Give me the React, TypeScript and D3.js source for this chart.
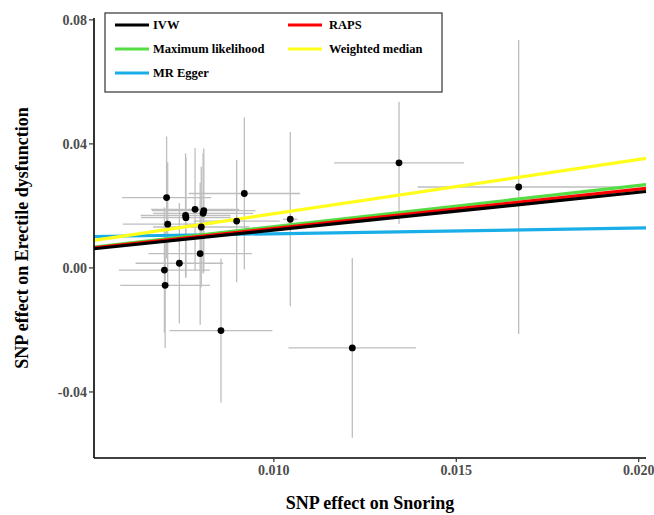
import React from "react";
import * as d3 from "d3";

// SNP effects (exposure: snoring, outcome: erectile dysfunction) and 95% CI half widths
const snpX = [0.00706, 0.00919, 0.00758, 0.00759, 0.00784, 0.00808, 0.00806, 0.00709, 0.00801, 0.00898,
  0.01045, 0.00798, 0.00741, 0.00700, 0.00702, 0.00855, 0.01343, 0.01215, 0.01671];
const snpY = [0.0227, 0.0240, 0.0169, 0.0162, 0.0189, 0.0185, 0.0176, 0.0141, 0.0132, 0.0151,
  0.0157, 0.0046, 0.0015, -0.0007, -0.0056, -0.0202, 0.0339, -0.0258, 0.0261];
const snpXErr = [0.00122, 0.00153, 0.00123, 0.00123, 0.00121, 0.00142, 0.00137, 0.00123, 0.00132, 0.00118,
  0.0002, 0.00142, 0.0012, 0.00125, 0.00123, 0.00141, 0.00178, 0.00175, 0.00277];
const snpYErr = [0.0197, 0.0245, 0.02, 0.0194, 0.0197, 0.02, 0.0194, 0.02, 0.0194, 0.0197,
  0.0281, 0.0229, 0.0194, 0.0202, 0.0202, 0.0232, 0.0197, 0.029, 0.0474];

// MR estimates drawn as lines (draw order)
const methods = ["MR Egger", "Weighted median", "Maximum likelihood", "RAPS", "IVW"];
const methodSlopes = [0.183, 1.75, 1.33, 1.27, 1.22];
const methodIntercepts = [0.0092, 0, 0, 0, 0];
const methodColors = ["#1AAEE8", "#FFFF1A", "#55DD44", "#FF0000", "#000000"];

// legend order
const legendLabels = ["IVW", "RAPS", "Maximum likelihood", "Weighted median", "MR Egger"];

const xTicks = [0.01, 0.015, 0.02];
const yTicks = [-0.04, 0, 0.04, 0.08];

const W = 654;
const H = 515;
const font = "'Liberation Serif', 'Times New Roman', serif";

const App = () => {
  const x = d3.scaleLinear().domain([0.00507, 0.0202]).range([94, 646]);
  const y = d3.scaleLinear().domain([-0.0613, 0.0806]).range([458, 18]);

  const [x0, x1] = x.domain();
  const [yb, yt] = y.range();
  const line = d3.line<[number, number]>().x(d => x(d[0])).y(d => y(d[1]));

  return (
    <svg width={W} height={H} style={{ position: "absolute", left: 0, top: 0, background: "#fff" }}>
      <g>
        {snpX.map((d, i) => (
          <g key={i} stroke="#BEBEBE" strokeWidth={1.3}>
            <line x1={x(d - snpXErr[i])} x2={x(d + snpXErr[i])} y1={y(snpY[i])} y2={y(snpY[i])} />
            <line x1={x(d)} x2={x(d)} y1={y(snpY[i] - snpYErr[i])} y2={y(snpY[i] + snpYErr[i])} />
          </g>
        ))}
      </g>
      <g>
        {methods.map((m, i) => (
          <path
            key={m}
            d={line([
              [x0, methodIntercepts[i] + methodSlopes[i] * x0],
              [x1, methodIntercepts[i] + methodSlopes[i] * x1],
            ]) || ""}
            stroke={methodColors[i]}
            strokeWidth={3.2}
            fill="none"
          />
        ))}
      </g>
      <g>
        {snpX.map((d, i) => (
          <circle key={i} cx={x(d)} cy={y(snpY[i])} r={3.4} fill="#000" />
        ))}
      </g>

      {/* axes */}
      <g fontFamily={font} fontWeight="bold" fontSize={14} fill="#4D4D4D">
        <line x1={x(x0)} x2={x(x1)} y1={yb} y2={yb} stroke="#000" strokeWidth={1.6} />
        {xTicks.map(t => (
          <g key={t} transform={`translate(${x(t)},${yb})`}>
            <line y1={0} y2={4} stroke="#333" strokeWidth={1.2} />
            <text y={17} textAnchor="middle">{t.toFixed(3)}</text>
          </g>
        ))}
        <line x1={x(x0)} x2={x(x0)} y1={yb} y2={yt} stroke="#000" strokeWidth={1.6} />
        {yTicks.map(t => (
          <g key={t} transform={`translate(${x(x0)},${y(t)})`}>
            <line x1={0} x2={-5} stroke="#333" strokeWidth={1.2} />
            <text x={-7} dy="0.35em" textAnchor="end">{t.toFixed(2)}</text>
          </g>
        ))}
      </g>

      <g fontFamily={font} fontWeight="bold">
        <rect x={105} y={13} width={337} height={79} fill="#fff" stroke="#333" strokeWidth={1.2} />
        {legendLabels.map((lab, i) => {
          const col = i % 2;
          const row = Math.floor(i / 2);
          const lx = col === 0 ? 115 : 288;
          const ly = 25 + row * 24;
          const color = methodColors[methods.indexOf(lab)];
          return (
            <g key={lab}>
              <line x1={lx} x2={lx + 34} y1={ly} y2={ly} stroke={color} strokeWidth={3.2} />
              <text x={lx + (col === 0 ? 38 : 41)} y={ly} dy="0.35em" fontSize={12.5} fill="#000">{lab}</text>
            </g>
          );
        })}
      </g>

      <text x={370} y={509} textAnchor="middle" fontFamily={font} fontWeight="bold" fontSize={18}>
        SNP effect on Snoring
      </text>
      <text
        transform={`translate(28,238) rotate(-90)`}
        textAnchor="middle"
        fontFamily={font}
        fontWeight="bold"
        fontSize={18}
      >
        SNP effect on Erectile dysfunction
      </text>
    </svg>
  );
};

export default App;
